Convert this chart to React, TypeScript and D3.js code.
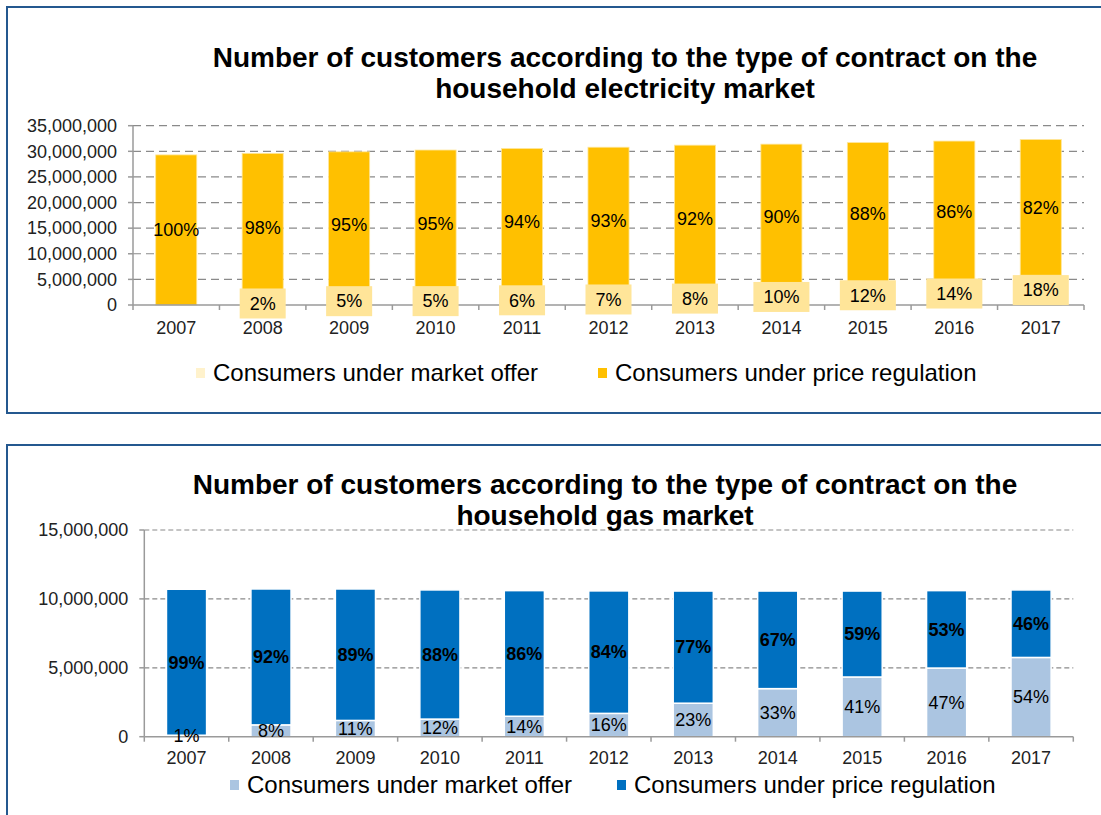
import React, { useEffect, useRef } from 'react';
import * as d3 from 'd3';

// two stacked bar charts: household electricity and gas customers by contract type

const years = ['2007', '2008', '2009', '2010', '2011', '2012', '2013', '2014', '2015', '2016', '2017'];

// electricity market
const elecTotals = [29300000, 29600000, 29900000, 30250000, 30550000, 30800000, 31200000, 31400000, 31700000, 32000000, 32300000];
const elecRegulatedPct = [100, 98, 95, 95, 94, 93, 92, 90, 88, 86, 82];
const elecMarketPct = [0, 2, 5, 5, 6, 7, 8, 10, 12, 14, 18];
const elecTicks = [0, 5000000, 10000000, 15000000, 20000000, 25000000, 30000000, 35000000];

// gas market
const gasTotals = [10700000, 10720000, 10720000, 10650000, 10600000, 10580000, 10570000, 10570000, 10570000, 10600000, 10650000];
const gasRegulatedPct = [99, 92, 89, 88, 86, 84, 77, 67, 59, 53, 46];
const gasMarketPct = [1, 8, 11, 12, 14, 16, 23, 33, 41, 47, 54];
const gasTicks = [0, 5000000, 10000000, 15000000];

const seriesNames = ['Consumers under market offer', 'Consumers under price regulation'];

const FONT = '"Liberation Sans", Arial, sans-serif';

const Panel = ({ cfg }) => {
  const gRef = useRef(null);

  useEffect(() => {
    const g = d3.select(gRef.current);
    g.selectAll('*').remove();

    // frame
    g.append('rect')
      .attr('x', cfg.frame[0])
      .attr('y', cfg.frame[1])
      .attr('width', 1200)
      .attr('height', cfg.frame[2])
      .attr('fill', 'none')
      .attr('stroke', '#24588f')
      .attr('stroke-width', 2);

    const x = d3.scaleBand()
      .domain(years)
      .range([cfg.left, cfg.right])
      .paddingInner(0.525)
      .paddingOuter(0.2625);

    const y = d3.scaleLinear()
      .domain([0, d3.max(cfg.ticks)])
      .range([cfg.bottom, cfg.top]);

    // gridlines
    g.selectAll('line.grid')
      .data(cfg.ticks.filter(t => t > 0))
      .enter()
      .append('line')
      .attr('x1', cfg.left)
      .attr('x2', cfg.right)
      .attr('y1', d => y(d))
      .attr('y2', d => y(d))
      .attr('stroke', '#8a8a8a')
      .attr('stroke-width', 1.2)
      .attr('stroke-dasharray', cfg.dash);

    // title
    g.append('text')
      .attr('text-anchor', 'middle')
      .attr('font-family', FONT)
      .attr('font-weight', 'bold')
      .attr('font-size', 28)
      .attr('fill', '#000')
      .selectAll('tspan')
      .data(cfg.title)
      .enter()
      .append('tspan')
      .attr('x', cfg.titleX)
      .attr('y', (d, i) => cfg.titleY + i * 31)
      .text(d => d);

    const rows = years.map((yr, i) => {
      const market = cfg.totals[i] * cfg.marketPct[i] / 100;
      return { yr, total: cfg.totals[i], market, reg: cfg.regPct[i], mkt: cfg.marketPct[i] };
    });

    // market offer segments
    g.selectAll('rect.mkt')
      .data(rows)
      .enter()
      .append('rect')
      .attr('x', d => x(d.yr))
      .attr('width', x.bandwidth())
      .attr('y', d => y(d.market))
      .attr('height', d => y(0) - y(d.market))
      .attr('fill', cfg.marketColor)
      .attr('stroke', cfg.barStroke)
      .attr('stroke-width', cfg.barStrokeWidth);

    // price regulation segments
    g.selectAll('rect.reg')
      .data(rows)
      .enter()
      .append('rect')
      .attr('x', d => x(d.yr))
      .attr('width', x.bandwidth())
      .attr('y', d => y(d.total))
      .attr('height', d => y(d.market) - y(d.total))
      .attr('fill', cfg.regColor)
      .attr('stroke', cfg.barStroke)
      .attr('stroke-width', cfg.barStrokeWidth);

    // y axis
    g.append('line')
      .attr('x1', cfg.left).attr('x2', cfg.left)
      .attr('y1', y(0)).attr('y2', y(d3.max(cfg.ticks)))
      .attr('stroke', '#9a9a9a').attr('stroke-width', 1.5);
    g.selectAll('line.ytick')
      .data(cfg.ticks)
      .enter()
      .append('line')
      .attr('x1', cfg.left - 5).attr('x2', cfg.left)
      .attr('y1', d => y(d)).attr('y2', d => y(d))
      .attr('stroke', '#9a9a9a').attr('stroke-width', 1.5);
    g.selectAll('text.ylab')
      .data(cfg.ticks)
      .enter()
      .append('text')
      .attr('x', cfg.left - 16)
      .attr('y', d => y(d))
      .attr('dy', '0.35em')
      .attr('text-anchor', 'end')
      .attr('font-family', FONT)
      .attr('font-size', 18)
      .attr('fill', '#222')
      .text(d => d3.format(',')(d));

    // x axis
    g.append('line')
      .attr('x1', cfg.left).attr('x2', cfg.right)
      .attr('y1', y(0)).attr('y2', y(0))
      .attr('stroke', '#9a9a9a').attr('stroke-width', 1.5);
    g.selectAll('line.xtick')
      .data(d3.range(years.length + 1))
      .enter()
      .append('line')
      .attr('x1', i => cfg.left + i * x.step())
      .attr('x2', i => cfg.left + i * x.step())
      .attr('y1', y(0)).attr('y2', y(0) + 5)
      .attr('stroke', '#9a9a9a').attr('stroke-width', 1.5);
    g.selectAll('text.xlab')
      .data(years)
      .enter()
      .append('text')
      .attr('x', d => x(d) + x.bandwidth() / 2)
      .attr('y', cfg.xLabelY)
      .attr('dy', '0.35em')
      .attr('text-anchor', 'middle')
      .attr('font-family', FONT)
      .attr('font-size', 18)
      .attr('fill', '#222')
      .text(d => d);

    // regulation labels
    g.selectAll('text.reglab')
      .data(rows)
      .enter()
      .append('text')
      .attr('x', d => x(d.yr) + x.bandwidth() / 2)
      .attr('y', d => (y(d.market) + y(d.total)) / 2)
      .attr('dy', '0.35em')
      .attr('text-anchor', 'middle')
      .attr('font-family', FONT)
      .attr('font-size', 18)
      .attr('font-weight', cfg.regBold ? 'bold' : 'normal')
      .attr('fill', '#000')
      .text(d => d.reg + '%');

    // market labels (with optional box)
    const mk = g.selectAll('g.mklab')
      .data(rows.filter(d => d.mkt > 0))
      .enter()
      .append('g')
      .attr('transform', d => `translate(${x(d.yr) + x.bandwidth() / 2},${(y(0) + y(d.market)) / 2})`);
    if (cfg.labelBox) {
      mk.append('rect').attr('class', 'box').attr('fill', cfg.labelBox);
    }
    mk.append('text')
      .attr('dy', '0.35em')
      .attr('text-anchor', 'middle')
      .attr('font-family', FONT)
      .attr('font-size', 18)
      .attr('fill', '#000')
      .text(d => d.mkt + '%');
    if (cfg.labelBox) {
      mk.each(function () {
        const sel = d3.select(this);
        const w = sel.select('text').node().getComputedTextLength() + 20;
        sel.select('rect.box')
          .attr('x', -w / 2).attr('width', w)
          .attr('y', -15).attr('height', 30);
      });
    }

    // legend
    const colors = [cfg.marketColor, cfg.regColor];
    const lg = g.selectAll('g.leg')
      .data(seriesNames)
      .enter()
      .append('g')
      .attr('transform', (d, i) => `translate(${cfg.legendX[i]},${cfg.legendY})`);
    lg.append('rect')
      .attr('x', 0).attr('y', -5)
      .attr('width', 9).attr('height', 10)
      .attr('fill', (d, i) => colors[i]);
    lg.append('text')
      .attr('x', 17)
      .attr('dy', '0.35em')
      .attr('font-family', FONT)
      .attr('font-size', 24)
      .attr('fill', '#000')
      .text(d => d);
  }, [cfg]);

  return <g ref={gRef} />;
};

const elecCfg = {
  frame: [7, 7, 406],
  title: ['Number of customers according to the type of contract on the', 'household electricity market'],
  titleX: 625,
  titleY: 67,
  left: 133,
  right: 1084,
  top: 125.7,
  bottom: 305,
  ticks: elecTicks,
  totals: elecTotals,
  regPct: elecRegulatedPct,
  marketPct: elecMarketPct,
  regColor: '#ffc000',
  marketColor: '#fff2cc',
  labelBox: '#ffe599',
  barStroke: '#ffe699',
  barStrokeWidth: 0.8,
  regBold: false,
  dash: '8,5',
  xLabelY: 328,
  legendX: [196, 598],
  legendY: 373,
};

const gasCfg = {
  frame: [7, 445, 420],
  title: ['Number of customers according to the type of contract on the', 'household gas market'],
  titleX: 605,
  titleY: 494,
  left: 144.3,
  right: 1073.3,
  top: 530,
  bottom: 736.7,
  ticks: gasTicks,
  totals: gasTotals,
  regPct: gasRegulatedPct,
  marketPct: gasMarketPct,
  regColor: '#0070c0',
  marketColor: '#abc5e1',
  labelBox: null,
  barStroke: '#ffffff',
  barStrokeWidth: 1.5,
  regBold: true,
  dash: '5,3',
  xLabelY: 758,
  legendX: [230, 617],
  legendY: 785,
};

const App = () => {
  return (
    <svg
      width="1101"
      height="815"
      style={{ position: 'absolute', left: 0, top: 0, background: '#fff' }}
    >
      <rect x="0" y="0" width="1101" height="815" fill="#fff" />
      <Panel cfg={elecCfg} />
      <Panel cfg={gasCfg} />
    </svg>
  );
};

export default App;
